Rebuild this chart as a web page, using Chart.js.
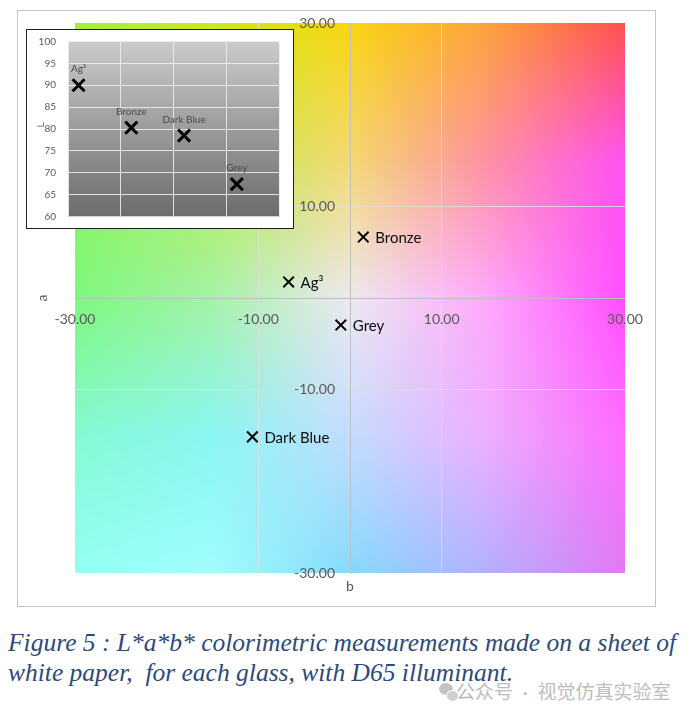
<!DOCTYPE html>
<html>
<head>
<meta charset="utf-8">
<title>L*a*b* colorimetric measurements</title>
<script src="https://cdn.jsdelivr.net/npm/chart.js@4.4.1/dist/chart.umd.min.js"></script>
<style>
  html, body { margin: 0; padding: 0; background: #fff; }
  body { width: 695px; height: 719px; position: relative; overflow: hidden; font-family: Lato, sans-serif; }
  .frame { position: absolute; left: 17px; top: 10px; width: 637px; height: 595px; border: 1px solid #c4c4c4; background: #fff; }
  #labChart { position: absolute; left: 0; top: 0; z-index: 1; }
  .inset { position: absolute; left: 26px; top: 29px; width: 266px; height: 198px; border: 1px solid #1e1e1e; background: #fff; z-index: 2; }
  #lChart { display: block; }
  .caption { position: absolute; left: 8px; font-family: "Liberation Serif", "Times New Roman", serif; font-style: italic;
             font-size: 25.5px; line-height: 30px; color: #2c4a7c; white-space: pre; }
  .wm { position: absolute; left: 456px; top: 678px; font-family: "Noto Sans CJK SC", sans-serif; font-size: 19px; line-height: 26px; color: #bdbdbd; white-space: pre; }
  .wm .dot { font-family: Lato, sans-serif; }
  .wm-icon { position: absolute; border-radius: 50%; background: #c4c4c4; }
</style>
</head>
<body>
<div class="frame"></div>
<canvas id="labChart" width="695" height="607"></canvas>
<div class="inset"><canvas id="lChart" width="266" height="198"></canvas></div>
<div class="caption" style="top:628px">Figure 5 : L*a*b* colorimetric measurements made on a sheet of</div>
<div class="caption" style="top:658px">white paper,  for each glass, with D65 illuminant.</div>
<div class="wm-icon" style="left:439px;top:683px;width:14px;height:12px"></div>
<div class="wm-icon" style="left:446px;top:690px;width:11px;height:10px;background:#d0d0d0;border:1px solid #fff"></div>
<div class="wm">公众号<span class="dot">  ·  </span>视觉仿真实验室</div>
<script>
const glassNames = ['Ag³', 'Bronze', 'Dark Blue', 'Grey'];
const bValues = [-6.7, 1.45, -10.65, -1.0];
const aValues = [1.75, 6.65, -15.15, -2.95];
const lValues = [90.0, 80.3, 78.5, 67.4];
const insetSlots = [0.2, 1.2, 2.2, 3.2];
const abTicks = [-30, -10, 10, 30];
const lTicks = [60, 65, 70, 75, 80, 85, 90, 95, 100];

// colour field behind the a/b plane, rows a = 30 .. -30, columns b = -30 .. 30
const bgColors = [
  ['#a4ee3e', '#cdea16', '#f9d512', '#fda23c', '#ff5050'],
  ['#8ef25c', '#b8ee50', '#f4d872', '#ff90a4', '#ff52f2'],
  ['#7ef87e', '#a4f2a8', '#eee8f0', '#ffa8fc', '#ff4eff'],
  ['#84fad2', '#8af6f2', '#c4dcff', '#eeaeff', '#ff6cff'],
  ['#94fff4', '#a0fdfd', '#86dafc', '#b4b0ff', '#e27af2']
];

function hexRgb(h) {
  const n = parseInt(h.slice(1), 16);
  return [n >> 16, (n >> 8) & 255, n & 255];
}
const bgRgb = bgColors.map(r => r.map(hexRgb));
let bgCache = null;

const labBackground = {
  id: 'labBackground',
  beforeDraw(chart) {
    const { ctx, chartArea: ca } = chart;
    const w = Math.round(ca.right - ca.left), h = Math.round(ca.bottom - ca.top);
    if (!bgCache || bgCache.width !== w || bgCache.height !== h) {
      bgCache = document.createElement('canvas');
      bgCache.width = w;
      bgCache.height = h;
      const c = bgCache.getContext('2d');
      const img = c.createImageData(w, h);
      const rows = bgRgb.length - 1, cols = bgRgb[0].length - 1;
      for (let y = 0; y < h; y++) {
        const fy = y / (h - 1) * rows;
        const iy = Math.min(Math.floor(fy), rows - 1);
        const ty = fy - iy;
        for (let x = 0; x < w; x++) {
          const fx = x / (w - 1) * cols;
          const ix = Math.min(Math.floor(fx), cols - 1);
          const tx = fx - ix;
          const p = (y * w + x) * 4;
          for (let k = 0; k < 3; k++) {
            const top = bgRgb[iy][ix][k] * (1 - tx) + bgRgb[iy][ix + 1][k] * tx;
            const bot = bgRgb[iy + 1][ix][k] * (1 - tx) + bgRgb[iy + 1][ix + 1][k] * tx;
            img.data[p + k] = top * (1 - ty) + bot * ty;
          }
          img.data[p + 3] = 255;
        }
      }
      c.putImageData(img, 0, 0);
    }
    ctx.drawImage(bgCache, ca.left, ca.top, ca.right - ca.left, ca.bottom - ca.top);
  }
};

// axis titles and the a-axis tick labels (left of the crossing axis)
const abTitles = {
  id: 'abTitles',
  afterDraw(chart) {
    const { ctx, chartArea: ca, scales } = chart;
    const x0 = scales.x.getPixelForValue(0);
    ctx.save();
    ctx.font = '14px Lato';
    ctx.fillStyle = '#595959';
    ctx.textAlign = 'right';
    ctx.textBaseline = 'middle';
    scales.y.ticks.forEach(t => {
      ctx.fillText(t.value.toFixed(2), x0 - 15, scales.y.getPixelForValue(t.value));
    });
    ctx.textAlign = 'center';
    ctx.fillText('b', x0, ca.bottom + 13);
    ctx.translate(ca.left - 33, scales.y.getPixelForValue(0));
    ctx.rotate(-Math.PI / 2);
    ctx.fillText('a', 0, 0);
    ctx.restore();
  }
};

const abLabels = {
  id: 'abLabels',
  afterDatasetsDraw(chart) {
    const { ctx } = chart;
    ctx.save();
    ctx.font = '15px Lato';
    ctx.fillStyle = '#0d0d0d';
    ctx.textAlign = 'left';
    ctx.textBaseline = 'middle';
    chart.getDatasetMeta(0).data.forEach((pt, i) => {
      ctx.fillText(glassNames[i], pt.x + 12, pt.y + 1);
    });
    ctx.restore();
  }
};

const abGrid = c => Math.abs(c.tick.value) === 30 ? 'rgba(0,0,0,0)' : 'rgba(222,222,222,0.85)';

new Chart(document.getElementById('labChart'), {
  type: 'scatter',
  data: {
    datasets: [{
      data: bValues.map((b, i) => ({ x: b, y: aValues[i] })),
      pointStyle: 'crossRot',
      pointRadius: 7.5,
      pointBorderWidth: 2,
      pointBorderColor: '#000',
      pointBackgroundColor: '#000'
    }]
  },
  options: {
    responsive: false,
    animation: false,
    events: [],
    layout: { padding: { left: 75, right: 70, top: 23, bottom: 34 } },
    plugins: { legend: { display: false }, tooltip: { enabled: false } },
    scales: {
      x: {
        type: 'linear', min: -30, max: 30, position: { y: 0 },
        afterBuildTicks: s => { s.ticks = abTicks.map(v => ({ value: v })); },
        ticks: { autoSkip: false, maxRotation: 0, padding: 13, color: '#595959',
                 font: { family: 'Lato', size: 14 }, callback: v => v.toFixed(2) },
        grid: { drawTicks: false, color: abGrid },
        border: { color: '#bfbfbf' }
      },
      y: {
        type: 'linear', min: -30, max: 30, position: { x: 0 },
        afterBuildTicks: s => { s.ticks = abTicks.map(v => ({ value: v })); },
        ticks: { display: false },
        grid: { drawTicks: false, color: abGrid },
        border: { color: '#bfbfbf' }
      }
    }
  },
  plugins: [labBackground, abTitles, abLabels]
});

// inset: lightness L of each glass
const grayBackground = {
  id: 'grayBackground',
  beforeDraw(chart) {
    const { ctx, chartArea: ca } = chart;
    const g = ctx.createLinearGradient(0, ca.top, 0, ca.bottom);
    g.addColorStop(0, '#cbcbcb');
    g.addColorStop(1, '#6c6c6c');
    ctx.save();
    ctx.fillStyle = g;
    ctx.fillRect(ca.left, ca.top, ca.right - ca.left, ca.bottom - ca.top);
    ctx.restore();
  }
};

const lDecor = {
  id: 'lDecor',
  afterDatasetsDraw(chart) {
    const { ctx, chartArea: ca } = chart;
    ctx.save();
    ctx.font = '10px Lato';
    ctx.fillStyle = '#4a4a4a';
    ctx.textAlign = 'center';
    ctx.textBaseline = 'middle';
    chart.getDatasetMeta(0).data.forEach((pt, i) => {
      ctx.fillText(glassNames[i], pt.x, pt.y - 16);
    });
    ctx.fillStyle = '#595959';
    ctx.translate(14, (ca.top + ca.bottom) / 2 - 4);
    ctx.rotate(-Math.PI / 2);
    ctx.fillText('L', 0, 0);
    ctx.restore();
  }
};

new Chart(document.getElementById('lChart'), {
  type: 'scatter',
  data: {
    datasets: [{
      data: insetSlots.map((s, i) => ({ x: s, y: lValues[i] })),
      pointStyle: 'crossRot',
      pointRadius: 8.5,
      pointBorderWidth: 3,
      pointBorderColor: '#000',
      pointBackgroundColor: '#000'
    }]
  },
  options: {
    responsive: false,
    animation: false,
    events: [],
    layout: { padding: { left: 0, right: 14, top: 11, bottom: 11 } },
    plugins: { legend: { display: false }, tooltip: { enabled: false } },
    scales: {
      x: {
        type: 'linear', min: 0, max: 4,
        ticks: { display: false, stepSize: 1 },
        grid: { drawTicks: false, color: 'rgba(236,236,236,0.9)' },
        border: { color: '#d4d4d4' },
        afterFit: s => { s.height = 0; s.paddingLeft = 0; s.paddingRight = 0; }
      },
      y: {
        type: 'linear', min: 60, max: 100,
        afterBuildTicks: s => { s.ticks = lTicks.map(v => ({ value: v })); },
        ticks: { padding: 12, color: '#595959', font: { family: 'Lato', size: 10 } },
        grid: { drawTicks: false, color: 'rgba(236,236,236,0.9)' },
        border: { display: false },
        afterFit: s => { s.width = 41; s.paddingTop = 0; s.paddingBottom = 0; }
      }
    }
  },
  plugins: [grayBackground, lDecor]
});
</script>
</body>
</html>
